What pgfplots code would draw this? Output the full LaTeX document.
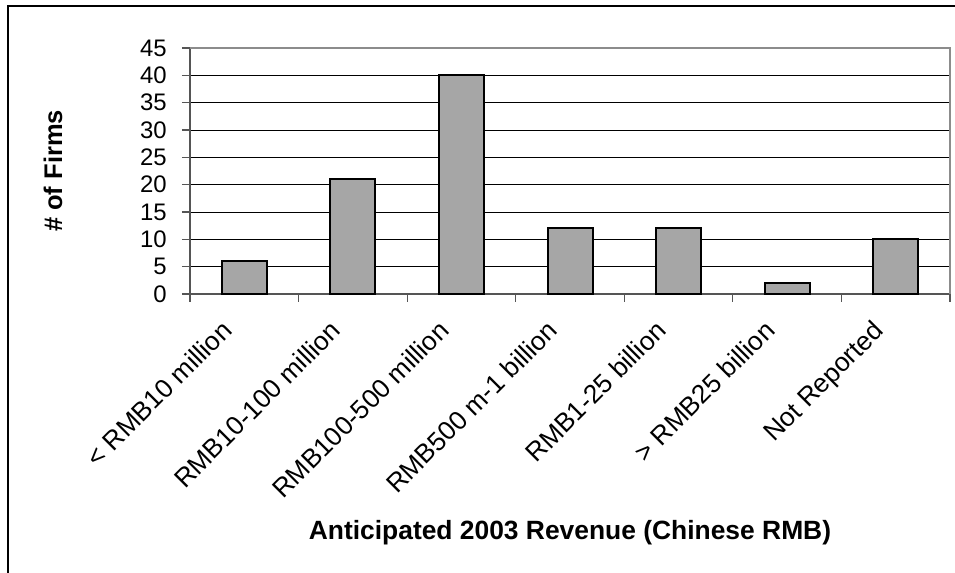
\documentclass[border=0pt]{standalone}
\usepackage{pgfplots}
\pgfplotsset{compat=1.18}
\usepackage{fontspec}
\setmainfont{Liberation Sans}
\definecolor{barfill}{RGB}{166,166,166}
\definecolor{axgray}{RGB}{140,140,140}
\definecolor{axdark}{RGB}{85,85,85}
\begin{document}
\begin{tikzpicture}[x=1bp,y=1bp]
\begin{axis}[
  name=ax,
  scale only axis, width=760bp, height=246bp,
  xmin=-0.5, xmax=6.5, ymin=0, ymax=45,
  ytick={0,5,...,45},
  xtick={-0.5,0.5,...,6.5},
  xticklabels={},
  extra x ticks={0,1,2,3,4,5,6},
  extra x tick labels={{< RMB10 million},{RMB10-100 million},{RMB100-500 million},{RMB500 m-1 billion},{RMB1-25 billion},{> RMB25 billion},{Not Reported}},
  extra x tick style={major tick length=0pt, tick style={draw=none},
    xticklabel style={font=\fontsize{26.4}{30}\selectfont, inner sep=0pt, xshift=-24.2bp, yshift=-24.6bp, rotate=45, anchor=north east}},
  tick align=outside,
  major tick length=8bp,
  tick style={draw=axdark, line width=1.2bp},
  axis x line*=bottom, axis y line*=left,
  axis line style={draw=axdark, line width=1.4bp},
  ymajorgrids,
  major grid style={draw=black, line width=0.9bp},
  /pgf/number format/assume math mode=true,
  yticklabel style={font=\fontsize{24}{28}\selectfont, inner sep=0pt, xshift=-15bp},
  xlabel={Anticipated 2003 Revenue (Chinese RMB)},
  xlabel style={font=\fontsize{26.5}{30}\selectfont\bfseries, at={(axis description cs:0.5,-1.0)}, anchor=base},
  ylabel={\# of Firms},
  ylabel style={font=\fontsize{25.6}{29}\selectfont\bfseries, at={(axis description cs:-0.1684,0.5)}, anchor=base},
  clip=false,
]
\addplot[ybar, bar width=45bp, fill=barfill, draw=black, line width=2bp]
  coordinates {(0,6) (1,21) (2,40) (3,12) (4,12) (5,2) (6,10)};
\draw[draw=axgray, line width=1.4bp] (axis cs:-0.5,45) -- (axis cs:6.5,45) -- (axis cs:6.5,0);
\end{axis}
\begin{scope}[shift={(ax.north west)}]
  \pgfresetboundingbox
  \path[use as bounding box] (-190,48) rectangle (765,-525);
  \draw[line width=2.2bp] (-182,-600) -- (-182,42) -- (800,42);
\end{scope}
\end{tikzpicture}
\end{document}
